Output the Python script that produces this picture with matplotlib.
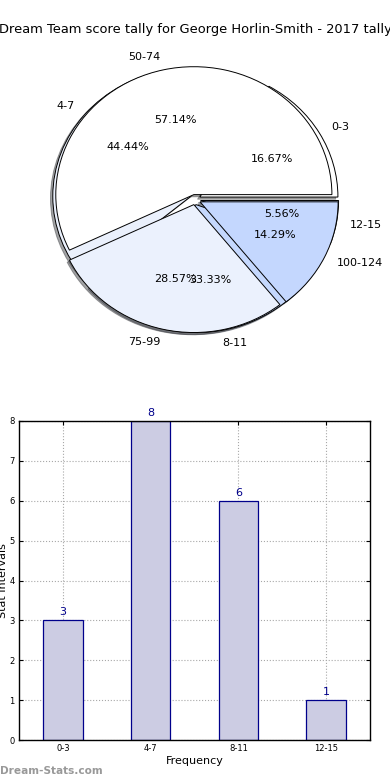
import matplotlib
matplotlib.use("Agg")
import matplotlib.pyplot as plt

title = "Dream Team score tally for George Horlin-Smith - 2017 tally"

# pie 1: score intervals
score_labels = ["0-3", "4-7", "8-11", "12-15"]
score_counts = [3, 8, 6, 1]
score_colors = ["#ffffff", "#eaf0fc", "#c5d8fd", "#c5d8fd"]

# pie 2: tally intervals
tally_labels = ["50-74", "75-99", "100-124"]
tally_counts = [4, 2, 1]
tally_colors = ["#ffffff", "#ebf1fd", "#c4d7fe"]

# bar chart
bar_labels = ["0-3", "4-7", "8-11", "12-15"]
bar_values = [3, 8, 6, 1]

fig = plt.figure(figsize=(3.9, 7.8), dpi=100)
fig.patch.set_facecolor("white")

fig.text(0.5, 1 - 30 / 780, title, ha="center", va="center", fontsize=9.35)

axp = fig.add_axes([0.0577, 0.5423 - 2.5 / 780, 0.885, 0.410])
wp = dict(edgecolor="black", linewidth=0.7)
shadow = dict(ox=-0.012, oy=-0.012)
axp.pie(score_counts, labels=score_labels, colors=score_colors,
        explode=[0.04] * len(score_counts), autopct="%.2f%%", shadow=shadow,
        startangle=0, wedgeprops=wp, textprops=dict(fontsize=8))
axp.pie(tally_counts, labels=tally_labels, colors=tally_colors,
        explode=[0.04] * len(tally_counts), autopct="%.2f%%", shadow=shadow,
        startangle=0, wedgeprops=wp, textprops=dict(fontsize=8))
axp.set_aspect("auto")
axp.set_xlim(-1.25, 1.25)
axp.set_ylim(-1.25, 1.25)
axp.axis("off")

axb = fig.add_axes([19 / 390, 40 / 780, 351 / 390, 319 / 780])
x = list(range(len(bar_labels)))
bars = axb.bar(x, bar_values, width=0.45, color="#cccce3", edgecolor="#00008b",
               linewidth=0.9, zorder=2)
for xi, v in zip(x, bar_values):
    axb.text(xi, v + 0.08, str(v), ha="center", va="bottom", color="#00008b",
             fontsize=8, zorder=3)
axb.set_xlim(-0.5, 3.5)
axb.set_ylim(0, 8)
axb.set_xticks(x)
axb.set_xticklabels(bar_labels, fontsize=6)
axb.set_yticks(range(0, 9))
axb.tick_params(axis="y", labelsize=6)
axb.tick_params(direction="in", top=True, right=True, length=3, pad=3)
axb.grid(True, linestyle=":", color="#a8a8a8", linewidth=0.8, zorder=0)
axb.set_axisbelow(True)
axb.set_xlabel("Frequency", fontsize=8, labelpad=2)
axb.set_ylabel("Stat Intervals", fontsize=8, labelpad=1)
for s in axb.spines.values():
    s.set_linewidth(1.0)

fig.text(0.0, 1 - 771 / 780, "Dream-Stats.com", ha="left", va="center",
         fontsize=7.6, color="#999999", fontweight="bold")

fig.savefig("out.png", dpi=100, facecolor="white")
